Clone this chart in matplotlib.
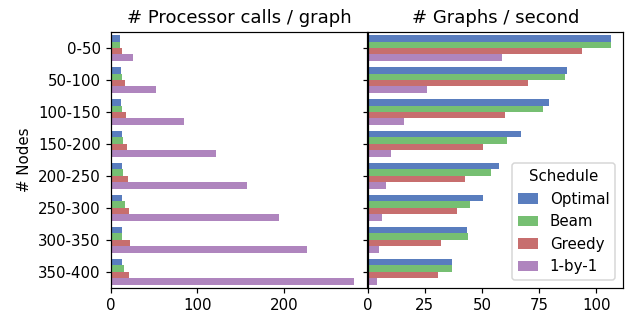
import matplotlib
matplotlib.use("Agg")
import matplotlib.pyplot as plt
import numpy as np
import seaborn as sns

categories = ["0-50", "50-100", "100-150", "150-200", "200-250", "250-300", "300-350", "350-400"]
schedules = ["Optimal", "Beam", "Greedy", "1-by-1"]

calls_optimal = [10.4, 11.5, 11.5, 12.7, 12.7, 12.7, 12.7, 12.7]
calls_beam = [10.4, 12.7, 12.7, 13.9, 13.9, 16.2, 12.7, 15.0]
calls_greedy = [12.7, 16.2, 17.3, 18.5, 19.6, 20.8, 21.9, 20.8]
calls_1by1 = [25.4, 52.0, 84.3, 121.0, 157.0, 195.0, 227.0, 282.0]

gps_optimal = [106.4, 87.2, 79.3, 67.1, 57.5, 50.5, 43.5, 37.0]
gps_beam = [106.4, 86.3, 76.7, 61.0, 54.0, 44.8, 44.0, 37.0]
gps_greedy = [93.7, 70.2, 60.1, 50.5, 42.7, 39.2, 32.2, 30.9]
gps_1by1 = [58.8, 26.0, 16.0, 10.3, 8.2, 6.4, 5.1, 4.2]

calls = [calls_optimal, calls_beam, calls_greedy, calls_1by1]
gps = [gps_optimal, gps_beam, gps_greedy, gps_1by1]

base = ["#4878CF", "#6ACC65", "#D65F5F", "#B47CC7"]
pal = [sns.desaturate(c, 0.75) for c in base]

DPI = 108
fig, axes = plt.subplots(1, 2, figsize=(628 / DPI, 316 / DPI), dpi=DPI, sharey=True)
fig.subplots_adjust(left=0.177, right=0.992, top=0.899, bottom=0.089, wspace=0.004)

y = np.arange(len(categories))
h = 0.2
for ax, data in zip(axes, [calls, gps]):
    for i, (vals, name) in enumerate(zip(data, schedules)):
        ax.barh(y - 0.3 + i * h, vals, height=h, color=pal[i], label=name)
    ax.set_ylim(len(categories) - 0.5, -0.5)

axes[0].set_yticks(y)
axes[0].set_yticklabels(categories)
axes[0].set_ylabel("# Nodes")
axes[0].set_title("# Processor calls / graph")
axes[1].set_title("# Graphs / second")
axes[0].set_xlim(0, 296)
axes[1].set_xlim(0, 111.7)
axes[0].set_xticks([0, 100, 200])
axes[1].set_xticks([0, 25, 50, 75, 100])
axes[1].legend(title="Schedule", loc="lower right", handlelength=1.3)

fig.savefig("out.png", dpi=DPI)
